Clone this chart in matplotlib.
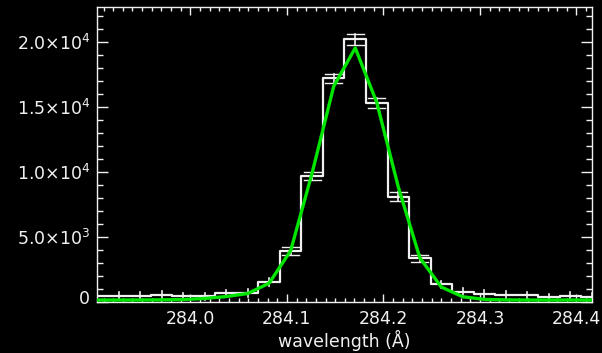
import matplotlib
matplotlib.use("Agg")
import matplotlib.pyplot as plt
from matplotlib.ticker import MultipleLocator, FixedLocator
from matplotlib.transforms import ScaledTranslation

# Spectral bins (Angstrom) for the line profile
wavelength = [283.9032, 283.9255, 283.9478, 283.9701, 283.9924, 284.0147,
              284.0370, 284.0593, 284.0816, 284.1039, 284.1262, 284.1485,
              284.1708, 284.1931, 284.2154, 284.2377, 284.2600, 284.2823,
              284.3046, 284.3269, 284.3492, 284.3715, 284.3938, 284.4161]

# Observed counts per bin and their uncertainties
counts = [460, 460, 460, 540, 440, 430, 670, 700, 1550, 3900, 9700, 17200,
          20200, 15300, 8100, 3350, 1350, 750, 600, 530, 510, 360, 490, 410]
errors = [290, 290, 290, 290, 290, 290, 290, 290, 295, 300, 330, 370,
          400, 360, 330, 300, 295, 290, 290, 290, 290, 290, 290, 290]

# Gaussian fit evaluated at the bin centres
fit = [150, 150, 155, 165, 190, 270, 420, 650, 1450, 3950, 9950, 16600,
       19550, 15350, 8850, 3400, 1150, 400, 200, 160, 150, 150, 150, 150]

y_ticks = [0, 5000, 10000, 15000, 20000]
y_labels = ["0", r"5.0$\times$10$^3$", r"1.0$\times$10$^4$",
            r"1.5$\times$10$^4$", r"2.0$\times$10$^4$"]
x_ticks = [284.0, 284.1, 284.2, 284.3, 284.4]
x_labels = ["284.0", "284.1", "284.2", "284.3", "284.4"]

fg = "#f0f0f0"
plt.rcParams["font.family"] = ["DejaVu Sans"]
plt.rcParams["mathtext.fontset"] = "dejavusans"

fig = plt.figure(figsize=(6.02, 3.53), dpi=100, facecolor="black")
ax = fig.add_axes([0.1611, 0.1445, 0.9834 - 0.1611, 0.9802 - 0.1445])
ax.set_facecolor("black")

bin_w = wavelength[1] - wavelength[0]

# stepped profile
ax.step(wavelength, counts, where="mid", color=fg, lw=1.6, zorder=3)

# error bars, capped where the profile is bright
for w, c, e in zip(wavelength, counts, errors):
    ax.plot([w, w], [c - e, c + e], color=fg, lw=1.2, zorder=3)
    half = 0.4 * bin_w
    if e >= 300:
        ax.plot([w - half, w + half], [c + e, c + e], color=fg, lw=1.0, zorder=3)
        ax.plot([w - half, w + half], [c - e, c - e], color=fg, lw=1.0, zorder=3)

# fitted profile
ax.plot(wavelength, fit, color="#00e600", lw=2.4, zorder=4)

ax.set_xlim(wavelength[0], wavelength[-1])
ax.set_ylim(0, 22700)

ax.xaxis.set_major_locator(FixedLocator(x_ticks))
ax.set_xticklabels(x_labels)
ax.xaxis.set_minor_locator(MultipleLocator(0.01))
ax.yaxis.set_major_locator(FixedLocator(y_ticks))
ax.set_yticklabels(y_labels)
ax.yaxis.set_minor_locator(MultipleLocator(1000))

ax.tick_params(axis="both", which="both", direction="in", colors=fg,
               top=True, right=True, labelsize=12.5, width=1.0)
ax.tick_params(axis="y", which="major", length=8, pad=5)
ax.tick_params(axis="y", which="minor", length=4.3)
ax.tick_params(axis="x", which="major", length=5.5, pad=6)
ax.tick_params(axis="x", which="minor", length=3)

# lift the zero label slightly above the lower axis line
zero_lbl = ax.get_yticklabels()[0]
zero_lbl.set_transform(zero_lbl.get_transform() +
                       ScaledTranslation(0, 5 / 100, fig.dpi_scale_trans))

for s in ax.spines.values():
    s.set_color(fg)
    s.set_linewidth(1.0)

ax.set_xlabel("wavelength (Å)", color=fg, fontsize=12.5, labelpad=1)

fig.savefig("out.png", dpi=100, facecolor="black")
